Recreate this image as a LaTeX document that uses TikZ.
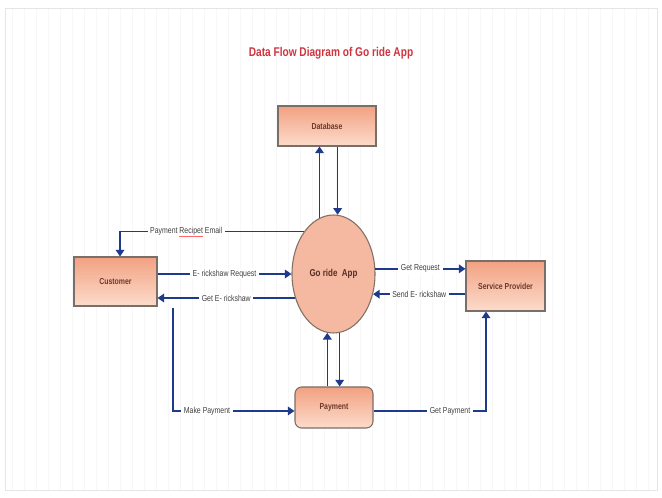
\documentclass[tikz,border=0pt]{standalone}
\usepackage{fontspec}
\usepackage{calc}
\setmainfont{Liberation Sans}
\newfontfamily\narrowfont[FakeStretch=0.8]{Liberation Sans}
\usetikzlibrary{arrows.meta,shapes.geometric}
\definecolor{flowblue}{HTML}{1F3A8A}
\definecolor{boxdark}{HTML}{F2A182}
\definecolor{boxlight}{HTML}{FCDCCB}
\definecolor{boxedge}{HTML}{7A6E68}
\definecolor{txtbrown}{HTML}{6B3A2C}
\definecolor{titlered}{HTML}{D0343F}
\definecolor{gridgray}{HTML}{F7F7F7}
\tikzset{
  entity/.style={draw=boxedge, line width=0.8pt, top color=boxdark, bottom color=boxlight,
    minimum width=#1, inner sep=0pt, font=\narrowfont\fontsize{6.5}{7}\selectfont\bfseries, text=txtbrown},
  proc/.style={ellipse, draw=boxedge!90!brown, line width=0.8pt, fill=boxdark!75!white,
    minimum width=62.25pt, minimum height=88.5pt, inner sep=0pt,
    font=\narrowfont\fontsize{7.5}{8}\selectfont\bfseries, text=txtbrown!80!black},
  flow/.style={draw=flowblue, line width=1.1pt, -{Triangle[length=5pt,width=6.5pt]}},
  lbl/.style={fill=white, inner xsep=2pt, inner ysep=1pt, text=black!75,
    font=\narrowfont\fontsize{6.5}{7}\selectfont}
}
\begin{document}
\begin{tikzpicture}[x=0.75pt,y=-0.75pt]
\useasboundingbox (0,0) rectangle (662,498);
\fill[white] (0,0) rectangle (662,498);
\draw[gridgray, line width=0.3pt] (5,8) grid[step=12] (657,490);
\draw[black!10, line width=0.3pt] (5,8) rectangle (657,490);

\node[font=\narrowfont\fontsize{9.5}{10}\selectfont\bfseries, text=titlered] (title) at (331,53) {Data Flow Diagram of Go ride App};

\node[entity=73.5pt, minimum height=30pt] (db) at (327,126) {Database};
\node[entity=62.25pt, minimum height=36.75pt] (cust) at (115.5,281.5) {Customer};
\node[entity=59.25pt, minimum height=37.5pt] (sp) at (505.5,286) {Service Provider};
\node[entity=58.5pt, minimum height=30.75pt, rounded corners=5pt] (pay) at (334,407.5) {Payment};
\node[proc] (app) at (333.5,274) {Go ride\ \ App};

\coordinate (mp) at (173,308);

% database flows
\draw[flow] (app.104) -- (db.south -| app.104);
\draw[flow] (db.south -| app.86) -- (app.86);
% payment flows
\draw[flow] (pay.north -| app.264) -- (app.264);
\draw[flow] (app.276) -- (pay.north -| app.276);
% customer flows
\draw[flow] (app.125) -| node[lbl, pos=0.32] {Payment \mbox{\rlap{\color{red!60}\rule[-1.8pt]{\widthof{Recipet}}{0.4pt}}Recipet} Email} ([xshift=3.4pt]cust.north);
\draw[flow] (cust.east |- app.west) -- node[lbl] {E- rickshaw Request} (app.west);
\draw[flow] (app.212) -- node[lbl] {Get E- rickshaw} (cust.east |- app.212);
% service provider flows
\draw[flow] (app.7) -- node[lbl] {Get Request} (sp.west |- app.7);
\draw[flow] (sp.west |- app.333) -- node[lbl] {Send E- rickshaw} (app.333);
% payment paths
\draw[flow] (mp) |- node[lbl, pos=0.64] {Make Payment} ([yshift=-2.6pt]pay.west);
\draw[flow] ([yshift=-2.6pt]pay.east) -| node[lbl, pos=0.34] {Get Payment} ([xshift=-14.6pt]sp.south);
\end{tikzpicture}
\end{document}
